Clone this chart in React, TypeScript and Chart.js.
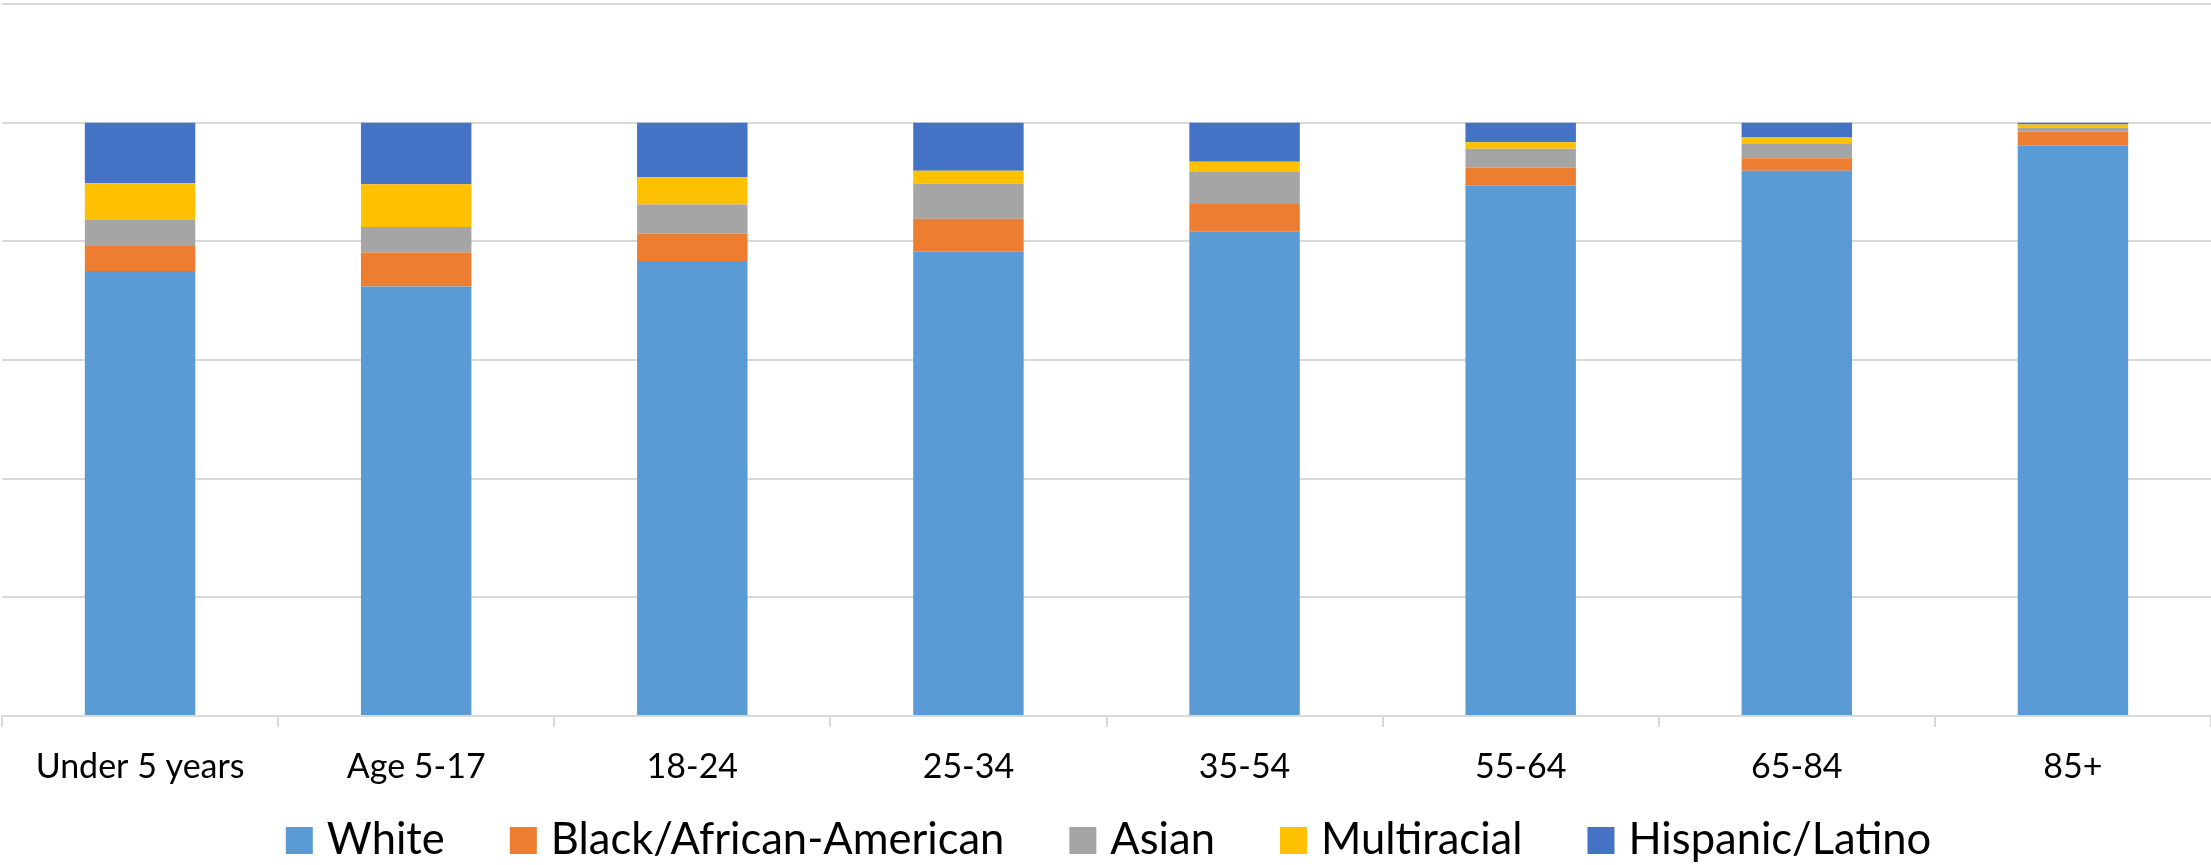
import React, { useEffect, useRef } from "react";
import { Chart, registerables } from "chart.js";

Chart.register(...registerables);

const categories = ["Under 5 years", "Age 5-17", "18-24", "25-34", "35-54", "55-64", "65-84", "85+"];
const white = [75.0, 72.4, 76.7, 78.3, 81.6, 89.4, 91.9, 96.1];
const black = [4.2, 5.7, 4.6, 5.5, 4.7, 3.0, 2.1, 2.4];
const asian = [4.5, 4.3, 4.9, 5.9, 5.4, 3.2, 2.4, 0.7];
const multiracial = [6.1, 7.2, 4.6, 2.2, 1.7, 1.1, 1.1, 0.5];
const hispanic = [10.2, 10.4, 9.2, 8.1, 6.6, 3.3, 2.5, 0.3];
const yMax = 120;
const yStep = 20;

const FONT = "Lato, 'Open Sans', sans-serif";

const LEGEND_FONT_SIZE = 43.5;
const LEGEND_BOX = 27;
const LEGEND_BOX_GAP = 14;
const LEGEND_ITEM_GAP = 65;
const LEGEND_BASELINE = 854;
const LEGEND_BOX_TOP = 827;

const customLegend = {
  id: "customLegend",
  afterDraw(chart: any) {
    const ctx = chart.ctx as CanvasRenderingContext2D;
    const ds = chart.data.datasets as any[];
    ctx.save();
    ctx.font = `${LEGEND_FONT_SIZE}px ${FONT}`;
    const widths = ds.map((d) => ctx.measureText(String(d.label)).width);
    const total =
      widths.reduce((s, w) => s + w + LEGEND_BOX + LEGEND_BOX_GAP, 0) + LEGEND_ITEM_GAP * (ds.length - 1);
    let x = (chart.width - total) / 2 + 3;
    ctx.textBaseline = "alphabetic";
    ctx.textAlign = "left";
    ds.forEach((d, i) => {
      ctx.fillStyle = d.backgroundColor;
      ctx.fillRect(x, LEGEND_BOX_TOP, LEGEND_BOX, LEGEND_BOX);
      x += LEGEND_BOX + LEGEND_BOX_GAP;
      ctx.fillStyle = "#000";
      ctx.fillText(String(d.label), x, LEGEND_BASELINE);
      x += widths[i] + LEGEND_ITEM_GAP;
    });
    ctx.restore();
  },
};

export default function App() {
  const ref = useRef<HTMLCanvasElement | null>(null);
  useEffect(() => {
    if (!ref.current) return;
    const chart = new Chart(ref.current, {
      type: "bar",
      data: {
        labels: categories,
        datasets: [
          { label: "White", data: white, backgroundColor: "#5B9BD5" },
          { label: "Black/African-American", data: black, backgroundColor: "#ED7D31" },
          { label: "Asian", data: asian, backgroundColor: "#A5A5A5" },
          { label: "Multiracial", data: multiracial, backgroundColor: "#FFC000" },
          { label: "Hispanic/Latino", data: hispanic, backgroundColor: "#4472C4" },
        ],
      },
      plugins: [customLegend],
      options: {
        responsive: false,
        animation: false,
        devicePixelRatio: 1,
        datasets: { bar: { categoryPercentage: 1, barPercentage: 0.4 } },
        layout: { padding: { top: 4, left: 2, right: 0, bottom: 74 } },
        scales: {
          x: {
            stacked: true,
            afterFit: (scale: any) => {
              scale.height = 75;
            },
            grid: { display: true, drawOnChartArea: false, offset: true, color: "#d9d9d9", lineWidth: 2, tickLength: 11 },
            border: { display: true, color: "#d9d9d9", width: 2 },
            ticks: { color: "#000", font: { family: FONT, size: 34 }, padding: 20, maxRotation: 0 },
          },
          y: {
            stacked: true,
            min: 0,
            max: yMax,
            ticks: { display: false, stepSize: yStep },
            grid: { color: "#d9d9d9", lineWidth: 2, drawTicks: false },
            border: { display: false },
          },
        },
        plugins: {
          tooltip: { enabled: false },
          legend: { display: false },
        },
      },
    });
    return () => chart.destroy();
  }, []);
  return (
    <div style={{ position: "absolute", left: 0, top: 0, width: 2211, height: 865, background: "#fff" }}>
      <canvas ref={ref} width={2211} height={865} />
    </div>
  );
}
